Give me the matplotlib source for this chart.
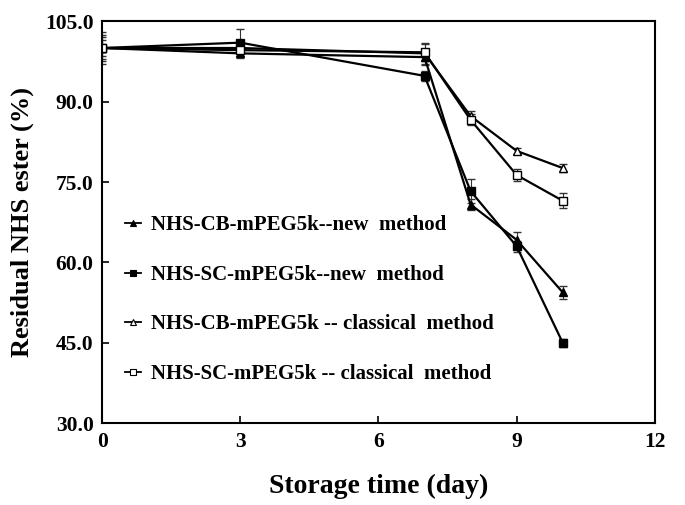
import matplotlib
matplotlib.use("Agg")
import matplotlib.pyplot as plt
from matplotlib.lines import Line2D

days = [0, 3, 7, 8, 9, 10]
cb_new = [100.0, 99.0, 98.3, 70.8, 64.2, 54.4]
sc_new = [100.0, 101.0, 94.8, 73.3, 63.0, 45.0]
cb_classic = [100.0, 100.0, 99.0, 87.3, 80.8, 77.6]
sc_classic = [100.0, 99.6, 99.2, 86.6, 76.3, 71.5]

cb_new_err = [1.5, 0.8, 1.5, 1.0, 1.5, 1.2]
sc_new_err = [2.0, 2.5, 1.0, 2.2, 1.0, 0.8]
cb_classic_err = [2.5, 0.8, 2.0, 1.0, 0.6, 0.8]
sc_classic_err = [3.0, 0.8, 1.6, 1.0, 1.2, 1.4]

labels = ["NHS-CB-mPEG5k--new  method",
          "NHS-SC-mPEG5k--new  method",
          "NHS-CB-mPEG5k -- classical  method",
          "NHS-SC-mPEG5k -- classical  method"]

xticks = [0, 3, 6, 9, 12]
yticks = [30.0, 45.0, 60.0, 75.0, 90.0, 105.0]

plt.rcParams['font.family'] = ['Liberation Serif', 'DejaVu Serif']
plt.rcParams['font.weight'] = 'bold'

fig = plt.figure(figsize=(6.85, 5.05), dpi=100)
ax = fig.add_axes([0.149, 0.162, 0.807, 0.796])

series = [
    (cb_new, cb_new_err, '^', 'black'),
    (sc_new, sc_new_err, 's', 'black'),
    (cb_classic, cb_classic_err, '^', 'white'),
    (sc_classic, sc_classic_err, 's', 'white'),
]
handles = []
for (vals, err, m, fc), lab in zip(series, labels):
    ax.errorbar(days, vals, yerr=err, color='black', lw=1.6, marker=m,
                markersize=5.5, markerfacecolor=fc, markeredgecolor='black',
                markeredgewidth=1.0, ecolor='#333333', elinewidth=0.8,
                capsize=3, capthick=0.8)
    handles.append(Line2D([], [], color='black', lw=1.3, marker=m,
                          markersize=4.5, markerfacecolor=fc,
                          markeredgecolor='black', markeredgewidth=0.8))

ax.set_xlim(0, 12)
ax.set_ylim(30, 105)
ax.set_xticks(xticks)
ax.set_yticks(yticks)
ax.set_yticklabels([f"{v:.1f}" for v in yticks])
ax.tick_params(direction='in', length=5, width=1.2, labelsize=15.5, pad=6)
for lab in ax.get_xticklabels() + ax.get_yticklabels():
    lab.set_fontweight('bold')
for s in ax.spines.values():
    s.set_linewidth(1.5)

ax.set_xlabel("Storage time (day)", fontsize=20, fontweight='bold', labelpad=16)
ax.set_ylabel("Residual NHS ester (%)", fontsize=19, fontweight='bold', labelpad=8)

leg = ax.legend(handles, labels, loc='upper left', bbox_to_anchor=(0.022, 0.543),
                frameon=False, handlelength=0.8, handletextpad=0.45,
                labelspacing=1.42, borderpad=0,
                prop={'family': 'Liberation Serif', 'weight': 'bold', 'size': 15})

fig.savefig("out.png", dpi=100)
